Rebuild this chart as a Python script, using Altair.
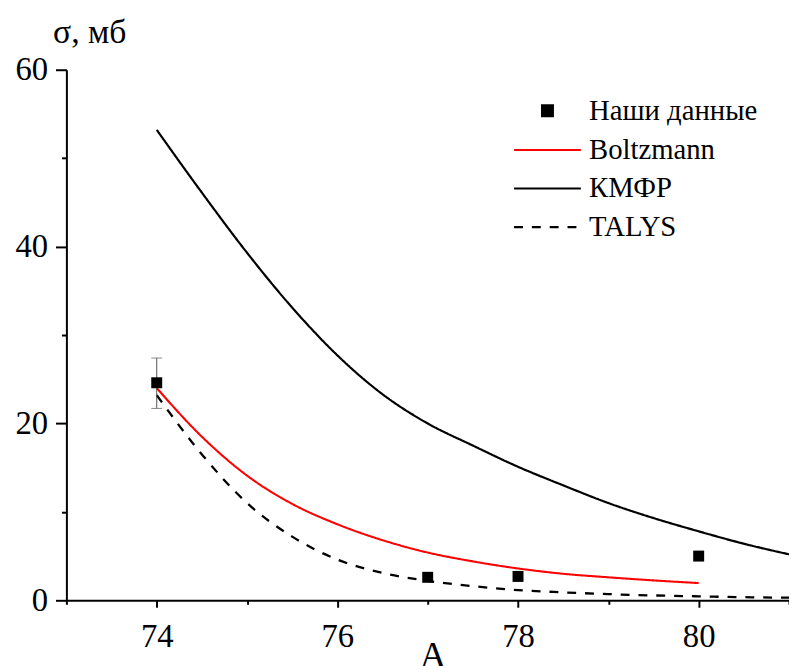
import altair as alt
import pandas as pd

# ---- data ----
series_names = ["Наши данные", "Boltzmann", "КМФР", "TALYS"]
series_colors = ["black", "red", "black", "black"]
square_path = "M-0.41,-0.41H0.41V0.41H-0.41Z"
line_path = "M-2.5,0H2.5"
series_shapes = [square_path, line_path, line_path, line_path]
series_dashes = [[1, 0], [1, 0], [1, 0], [9, 9]]
series_widths = [2, 2.3, 2.3, 2.6]

kmfr_A = [74, 74.5, 75, 75.5, 76, 76.5, 77, 77.5, 78, 78.5, 79, 79.5, 80, 80.5, 81]
kmfr_sigma = [53.2, 46.1, 39.3, 33.1, 27.7, 23.3, 20.0, 17.5, 15.1, 13.0, 11.0, 9.3, 7.8, 6.4, 5.2]

talys_A = [74, 74.5, 75, 75.5, 76, 76.5, 77, 77.5, 78, 78.5, 79, 79.5, 80, 80.5, 81]
talys_sigma = [23.2, 16.5, 11.0, 7.2, 4.6, 3.1, 2.2, 1.6, 1.15, 0.9, 0.7, 0.55, 0.45, 0.35, 0.3]

boltz_A = [74, 74.5, 75, 75.5, 76, 76.5, 77, 77.5, 78, 78.5, 79, 79.5, 80]
boltz_sigma = [24.0, 18.5, 14.1, 10.9, 8.6, 6.8, 5.4, 4.4, 3.6, 3.0, 2.6, 2.25, 1.95]

exp_A = [74, 77, 78, 80]
exp_sigma = [24.6, 2.6, 2.7, 5.0]
err_A = [74]
err_lo = [21.7]
err_hi = [27.4]

x_ticks = [73, 74, 75, 76, 77, 78, 79, 80, 81]
y_ticks = [0, 10, 20, 30, 40, 50, 60]

# ---- tables ----
lines_df = pd.concat([
    pd.DataFrame({"A": kmfr_A, "sigma": kmfr_sigma, "series": "КМФР", "order": 0}),
    pd.DataFrame({"A": talys_A, "sigma": talys_sigma, "series": "TALYS", "order": 1}),
    pd.DataFrame({"A": boltz_A, "sigma": boltz_sigma, "series": "Boltzmann", "order": 2}),
], ignore_index=True)
pts_df = pd.DataFrame({"A": exp_A, "sigma": exp_sigma, "series": "Наши данные"})
err_df = pd.DataFrame({"A": err_A, "lo": err_lo, "hi": err_hi})
cap_df = pd.DataFrame({"A": err_A + err_A, "v": err_lo + err_hi})

font = "Liberation Serif"
sym_size = 729

x_scale = alt.Scale(domain=[73, 81], nice=False, zero=False)
y_scale = alt.Scale(domain=[0, 60], nice=False, zero=False)

x_axis = alt.Axis(
    values=x_ticks, format="d",
    labelExpr="datum.value % 2 == 0 ? datum.label : ''",
    labelFont=font, labelFontSize=33, labelColor="black",
    tickSize={"condition": {"test": "datum.value % 2 == 0", "value": 7}, "value": 4},
    title="A",
    titleFont=font, titleFontSize=38, titleFontWeight="normal", titleColor="black",
    titleBaseline="alphabetic", titleAlign="center", titleX=370, titleY=68,
    labelPadding=14,
)
y_axis = alt.Axis(
    values=y_ticks, format="d",
    labelExpr="datum.value % 20 == 0 ? datum.label : ''",
    labelFont=font, labelFontSize=33, labelColor="black",
    tickSize={"condition": {"test": "datum.value % 20 == 0", "value": 11}, "value": 5},
    title="σ, мб",
    titleFont=font, titleFontSize=34, titleFontWeight="normal", titleColor="black",
    titleAngle=0, titleAlign="center", titleBaseline="alphabetic",
    titleX=23, titleY=-28,
    labelPadding=8,
)

X = alt.X("A:Q", scale=x_scale, axis=x_axis)
Y = alt.Y("sigma:Q", scale=y_scale, axis=y_axis)

legend = alt.Legend(
    title=None, orient="none", legendX=471, legendY=27, padding=0,
    labelFont=font, labelFontSize=29, labelColor="black", labelOffset=27,
    labelLimit=400,
    symbolSize=sym_size, symbolStrokeWidth=2, rowPadding=9,
)

color_enc = alt.Color("series:N", scale=alt.Scale(domain=series_names, range=series_colors), legend=legend)
dash_enc = alt.StrokeDash("series:N", scale=alt.Scale(domain=series_names, range=series_dashes), legend=legend)
shape_enc = alt.Shape("series:N", scale=alt.Scale(domain=series_names, range=series_shapes), legend=legend)
width_enc = alt.StrokeWidth("series:N", scale=alt.Scale(domain=series_names, range=series_widths), legend=None)

lines = alt.Chart(lines_df).mark_line(interpolate="monotone", clip=True).encode(
    x=X, y=Y, color=color_enc, strokeDash=dash_enc, strokeWidth=width_enc,
    detail="series:N", order="order:Q"
)

err_rule = alt.Chart(err_df).mark_rule(color="#555555", strokeWidth=1).encode(
    x=alt.X("A:Q", scale=x_scale), y=alt.Y("lo:Q", scale=y_scale), y2="hi:Q"
)
err_caps = alt.Chart(cap_df).mark_tick(color="#555555", orient="horizontal", size=11, thickness=1).encode(
    x=alt.X("A:Q", scale=x_scale), y=alt.Y("v:Q", scale=y_scale)
)

points = alt.Chart(pts_df).mark_point(filled=True, opacity=1, size=sym_size).encode(
    x=X, y=Y, color=color_enc, shape=shape_enc, strokeDash=dash_enc
)

chart = alt.layer(lines, err_rule, err_caps, points).properties(
    width=730, height=536,
    background="white",
    autosize=alt.AutoSizeParams(type="none"),
    padding={"left": 59, "top": 59, "right": 0, "bottom": 63},
).configure(
    font=font,
    style={"guide-label": {"font": font}, "guide-title": {"font": font}},
).configure_view(stroke=None).configure_axis(
    grid=False,
    domainColor="black", domainWidth=2,
    tickColor="black", tickWidth=2,
    labelFont=font, labelFontSize=33, labelColor="black",
    labelFlush=False, labelOverlap=False,
).configure_legend(
    labelFont=font, labelFontSize=29, labelColor="black", labelLimit=400,
)

chart.save("out.html", embed_options={"renderer": "svg", "actions": False})
